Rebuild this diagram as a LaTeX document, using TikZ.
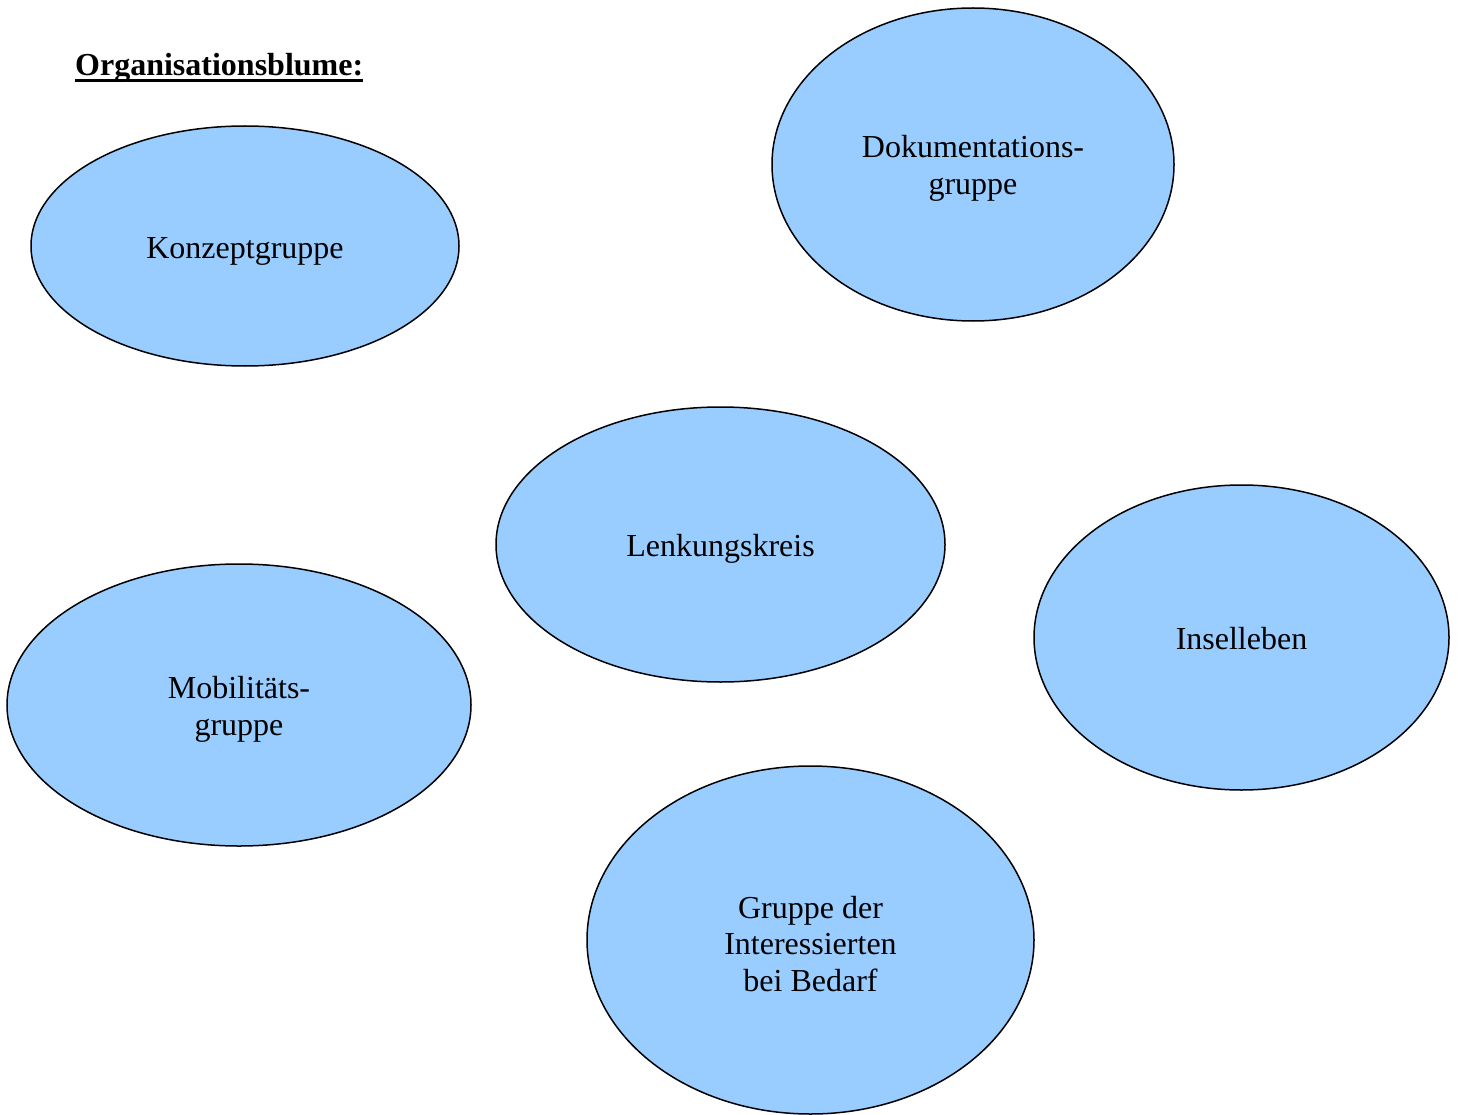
\documentclass[tikz,border=0pt]{standalone}
\usepackage{fontspec}
\setmainfont{Liberation Serif}
\usetikzlibrary{shapes.geometric}
\definecolor{petal}{HTML}{99CCFF}
\tikzset{
  petalnode/.style={ellipse, draw=black, line width=1.5pt, fill=petal, inner sep=0pt},
  petaltext/.style={inner sep=0pt, align=center, yshift=-4pt, font=\fontsize{32}{36.8}\selectfont},
}
\begin{document}
\begin{tikzpicture}[x=1pt,y=-1pt]
\useasboundingbox (0,0) rectangle (1458,1115);
\clip (0,0) rectangle (1458,1115);
\node[anchor=base west, inner sep=0pt, font=\fontsize{32}{36.8}\selectfont\bfseries] (title) at (75,76) {Organisationsblume:};
\draw[line width=2.2pt] ([yshift=-4.5pt]title.base west) -- ([yshift=-4.5pt]title.base east);
\node[petalnode, minimum width=428pt, minimum height=240pt] (konzept) at (245,246) {};
\node[petaltext, yshift=-1.5pt] (konzept-t) at (konzept.center) {Konzeptgruppe};
\node[petalnode, minimum width=402pt, minimum height=313pt] (doku) at (973,164.5) {};
\node[petaltext] (doku-t) at (doku.center) {Dokumentations-\\gruppe};
\node[petalnode, minimum width=449pt, minimum height=275pt] (lenk) at (720.5,544.5) {};
\node[petaltext] (lenk-t) at (lenk.center) {Lenkungskreis};
\node[petalnode, minimum width=415pt, minimum height=305pt] (insel) at (1241.5,637.5) {};
\node[petaltext, yshift=3pt] (insel-t) at (insel.center) {Inselleben};
\node[petalnode, minimum width=464pt, minimum height=282pt] (mobil) at (239,705) {};
\node[petaltext] (mobil-t) at (mobil.center) {Mobilitäts-\\gruppe};
\node[petalnode, minimum width=447pt, minimum height=348pt] (interes) at (810.5,940) {};
\node[petaltext] (interes-t) at (interes.center) {Gruppe der\\Interessierten\\bei Bedarf};
\end{tikzpicture}
\end{document}
